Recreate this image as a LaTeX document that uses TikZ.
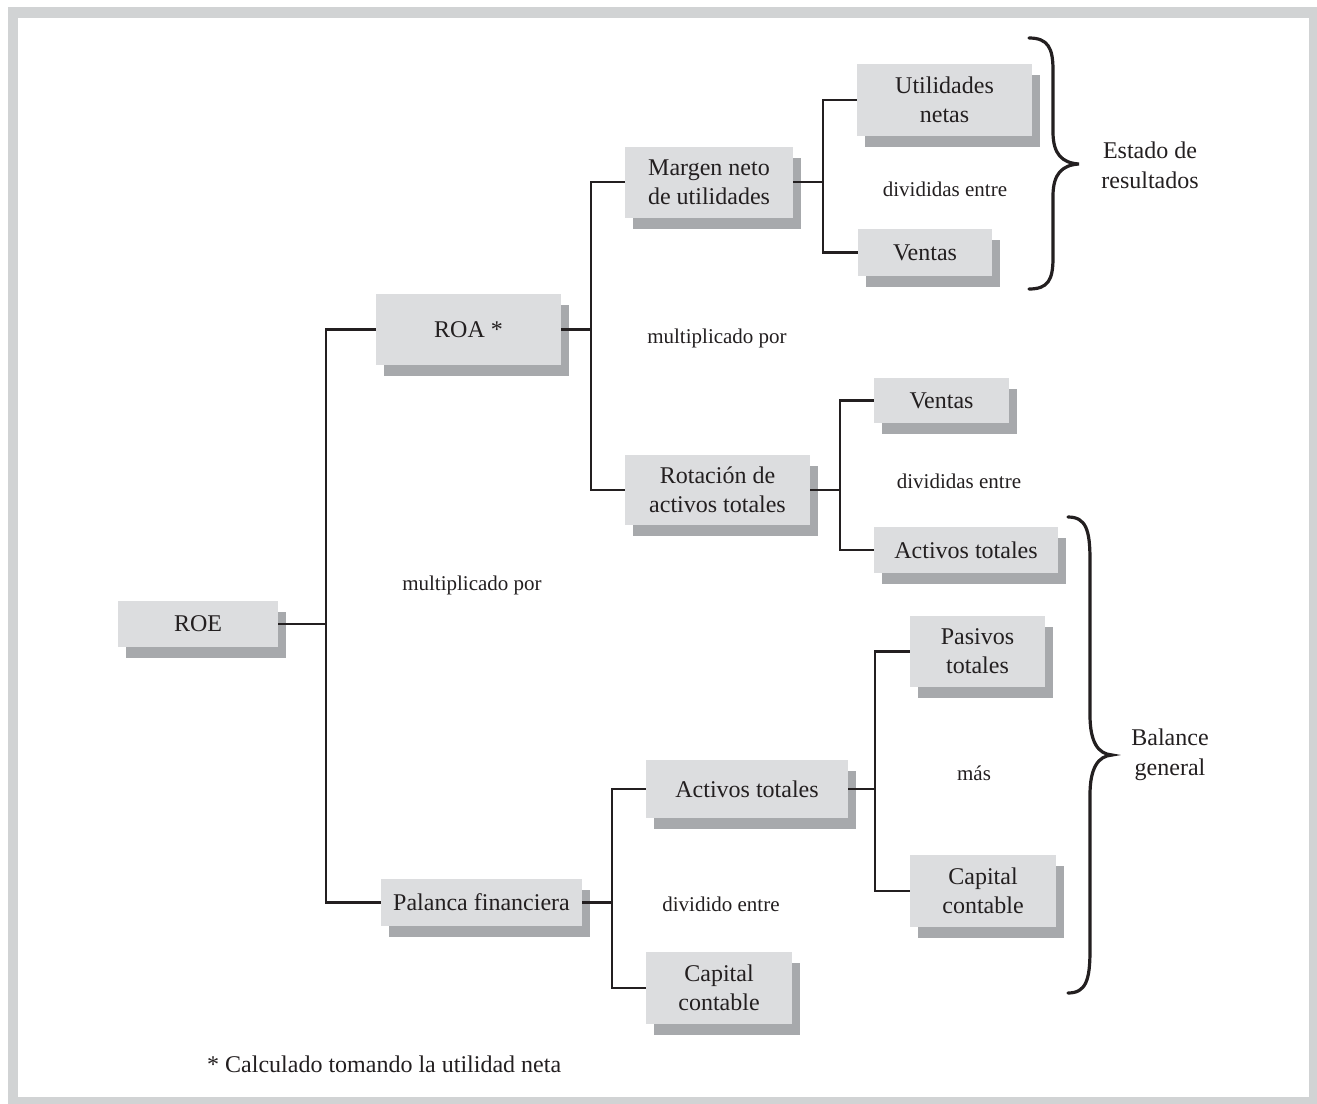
\documentclass[tikz,border=0pt]{standalone}
\usepackage{fontspec}
\setmainfont{Liberation Serif}
\usetikzlibrary{shadows,calc}
\definecolor{boxfill}{HTML}{DCDDDF}
\definecolor{shadowfill}{HTML}{A7A9AC}
\definecolor{framegray}{HTML}{D1D3D4}
\definecolor{txt}{HTML}{231F20}
\tikzset{
  bx/.style={fill=boxfill, inner sep=0pt, align=center, text=txt,
    font=\fontsize{24}{29}\selectfont,
    drop shadow={shadow xshift=8pt, shadow yshift=-11pt, fill=shadowfill, opacity=1}},
  lbl/.style={inner sep=0pt, text=txt, font=\fontsize{21}{26}\selectfont},
  side/.style={inner sep=0pt, align=center, text=txt, font=\fontsize{24}{30}\selectfont},
  conn/.style={draw=txt, line width=2.4pt},
  brc/.style={draw=txt, line width=3.2pt, line cap=round}
}
\begin{document}
\begin{tikzpicture}[x=1pt,y=-1pt]
\useasboundingbox (0,0) rectangle (1317,1103);
\fill[framegray] (8,7) rectangle (1330,1110);
\fill[white] (18,18) rectangle (1309,1097);

% nodes
\node[bx, minimum width=160, minimum height=46] (roe) at (198,624) {ROE};
\node[bx, minimum width=185, minimum height=71] (roa) at (468.5,329.5) {ROA *};
\node[bx, minimum width=201, minimum height=47] (pal) at (481.5,902.5) {Palanca financiera};
\node[bx, minimum width=168, minimum height=71] (mar) at (709,182) {Margen neto\\de utilidades};
\node[bx, minimum width=185, minimum height=70] (rot) at (717.5,490) {Rotación de\\activos totales};
\node[bx, minimum width=175, minimum height=72] (uti) at (944.5,100) {Utilidades\\netas};
\node[bx, minimum width=134, minimum height=47] (ven1) at (925,252.5) {Ventas};
\node[bx, minimum width=135, minimum height=45] (ven2) at (941.5,400.5) {Ventas};
\node[bx, minimum width=184, minimum height=46] (act1) at (966,550) {Activos totales};
\node[bx, minimum width=202, minimum height=58] (act2) at (747,789) {Activos totales};
\node[bx, minimum width=146, minimum height=72] (cap1) at (719,988) {Capital\\contable};
\node[bx, minimum width=135, minimum height=71] (pas) at (977.5,651.5) {Pasivos\\totales};
\node[bx, minimum width=146, minimum height=72] (cap2) at (983,891) {Capital\\contable};

% connectors
\draw[conn] (roe.east) -- ++(48,0) coordinate (j1);
\draw[conn] (roa.west) -| (j1) |- (pal.west);
\draw[conn] (roa.east) -- ++(30,0) coordinate (j2);
\draw[conn] (mar.west) -| (j2) |- (rot.west);
\draw[conn] (mar.east) -- ++(30,0) coordinate (j3);
\draw[conn] (uti.west) -| (j3) |- (ven1.west);
\draw[conn] (rot.east) -- ++(30,0) coordinate (j4);
\draw[conn] (ven2.west) -| (j4) |- (act1.west);
\draw[conn] (pal.east) -- ++(30,0) coordinate (j5);
\draw[conn] (act2.west) -| (j5) |- (cap1.west);
\draw[conn] (act2.east) -- ++(27,0) coordinate (j6);
\draw[conn] (pas.west) -| (j6) |- (cap2.west);

% labels
\node[lbl] (m1) at (717,338) {multiplicado por};
\node[lbl] (m2) at (472,585) {multiplicado por};
\node[lbl] (d1) at (945,189) {divididas entre};
\node[lbl] (d2) at (959,481) {divididas entre};
\node[lbl] (mas) at (974,773) {más};
\node[lbl] (d3) at (721,904) {dividido entre};
\node[side] (er) at (1150,165) {Estado de\\resultados};
\node[side] (bg) at (1170,755) {Balance\\general};
\node[inner sep=0pt, text=txt, font=\fontsize{24}{28}\selectfont, anchor=west] (fn) at (207,1064) {* Calculado tomando la utilidad neta};

% braces
\draw[brc] (1029,38) .. controls (1048,38) and (1053,48) .. (1053,70)
  -- (1053,132) .. controls (1053,154) and (1062,163) .. (1079,164)
  .. controls (1062,165) and (1053,174) .. (1053,196)
  -- (1053,258) .. controls (1053,280) and (1048,289) .. (1029,289);
\draw[brc] (1068,517) .. controls (1086,517) and (1090,530) .. (1090,560)
  -- (1090,715) .. controls (1090,742) and (1098,754) .. (1112,755)
  .. controls (1098,756) and (1090,768) .. (1090,795)
  -- (1090,950) .. controls (1090,980) and (1086,993) .. (1068,993);
\end{tikzpicture}
\end{document}
